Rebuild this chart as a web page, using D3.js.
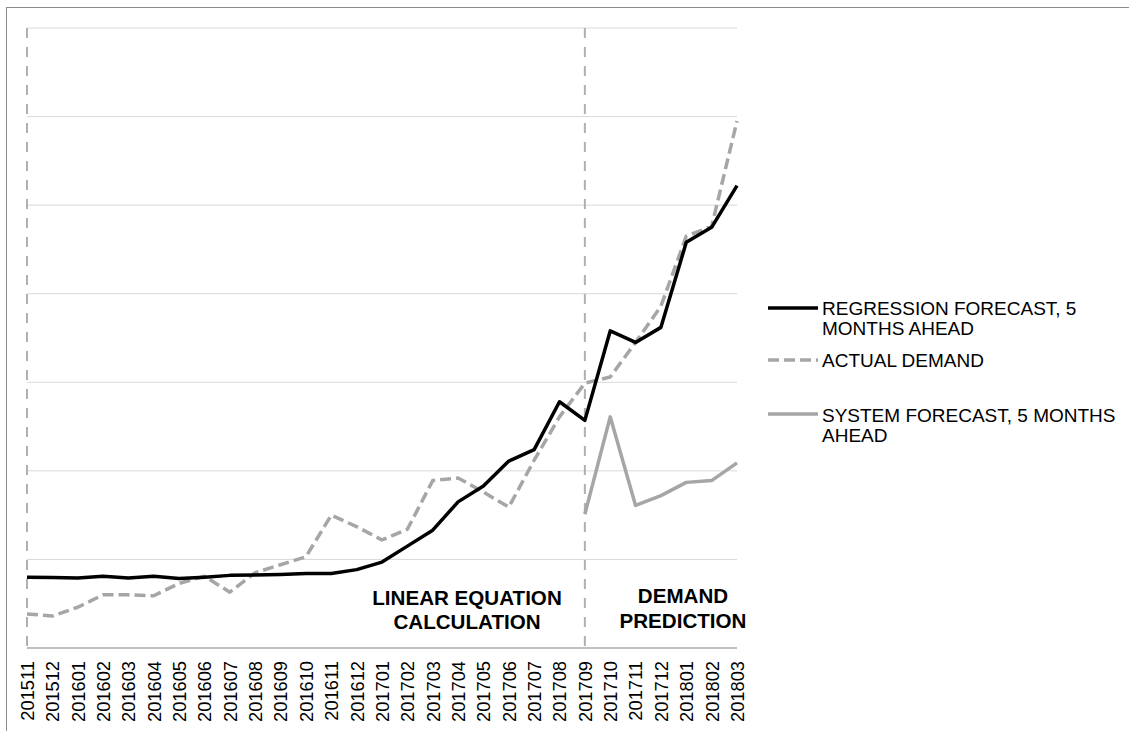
<!DOCTYPE html>
<html>
<head>
<meta charset="utf-8">
<script src="https://cdn.jsdelivr.net/npm/d3@7"></script>
<style>
  html, body { margin: 0; padding: 0; background: #fff; }
  svg { display: block; font-family: "Liberation Sans", Arial, sans-serif; }
</style>
</head>
<body>
<svg id="chart" width="1129" height="731"></svg>
<script>
const categories = ["201511","201512","201601","201602","201603","201604","201605","201606","201607","201608","201609","201610","201611","201612","201701","201702","201703","201704","201705","201706","201707","201708","201709","201710","201711","201712","201801","201802","201803"];

const regressionForecast = [8.0,7.95,7.9,8.1,7.9,8.1,7.85,8.0,8.2,8.25,8.3,8.4,8.4,8.85,9.7,11.5,13.3,16.5,18.3,21.1,22.4,27.8,25.7,35.8,34.5,36.2,45.8,47.5,52.2];

const actualDemand = [3.85,3.6,4.6,6.0,6.0,5.9,7.3,8.1,6.3,8.5,9.4,10.3,15.0,13.7,12.2,13.4,18.9,19.2,17.6,15.9,21.2,26.1,29.9,30.6,34.5,38.6,46.5,47.6,59.5];

const systemForecast = [null,null,null,null,null,null,null,null,null,null,null,null,null,null,null,null,null,null,null,null,null,null,15.1,26.1,16.1,17.2,18.7,18.9,20.9];

const yTicks = [10,20,30,40,50,60,70];
const dividerCategories = ["201511","201709"];

const seriesNames = ["REGRESSION FORECAST, 5 MONTHS AHEAD","ACTUAL DEMAND","SYSTEM FORECAST, 5 MONTHS AHEAD"];

const svg = d3.select("#chart");

// outer border
svg.append("rect").attr("x",6.5).attr("y",7.5).attr("width",1200).attr("height",800)
  .attr("fill","none").attr("stroke","#8c8c8c").attr("stroke-width",1);

const x = d3.scalePoint().domain(categories).range([27, 737]);
const y = d3.scaleLinear().domain([0,70]).range([648, 28]);

// gridlines
svg.append("g").selectAll("line").data(yTicks).join("line")
  .attr("x1",27).attr("x2",737)
  .attr("y1",d=>y(d)).attr("y2",d=>y(d))
  .attr("stroke","#d9d9d9").attr("stroke-width",1);

// x axis
const xAxis = svg.append("g").attr("transform",`translate(0,${y(0)})`)
  .call(d3.axisBottom(x).tickSize(0).tickSizeOuter(0));
xAxis.select(".domain").attr("stroke","#bfbfbf").attr("stroke-width",2.2)
  .attr("d", `M${x.range()[0]},0H${x.range()[1]}`);
xAxis.selectAll("text")
  .attr("transform","rotate(-90)")
  .attr("x",-13).attr("y",0).attr("dy","0.35em")
  .attr("text-anchor","end")
  .attr("font-size",18.3).attr("fill","#000")
  .attr("font-family","'Liberation Sans', Arial, sans-serif");

// vertical dashed dividers
svg.append("g").selectAll("line").data(dividerCategories).join("line")
  .attr("x1",d=>x(d)).attr("x2",d=>x(d))
  .attr("y1",y(70)).attr("y2",654)
  .attr("stroke","#b0b0b0").attr("stroke-width",2)
  .attr("stroke-dasharray","10,9");

const line = d3.line()
  .defined(d=>d.v!=null)
  .x(d=>x(d.c)).y(d=>y(d.v));

function pts(arr){ return categories.map((c,i)=>({c, v: arr[i]})); }

svg.append("path").datum(pts(systemForecast))
  .attr("d",line).attr("fill","none")
  .attr("stroke","#a6a6a6").attr("stroke-width",3.5).attr("stroke-linejoin","round");

svg.append("path").datum(pts(actualDemand))
  .attr("d",line).attr("fill","none")
  .attr("stroke","#a6a6a6").attr("stroke-width",3.5)
  .attr("stroke-dasharray","11,5").attr("stroke-linejoin","round");

svg.append("path").datum(pts(regressionForecast))
  .attr("d",line).attr("fill","none")
  .attr("stroke","#000").attr("stroke-width",3.5).attr("stroke-linejoin","round");

// annotations
const ann = svg.append("g").attr("font-weight","bold").attr("font-size",20.6)
  .attr("text-anchor","middle").attr("fill","#000");
ann.append("text").attr("x",467).attr("y",605).text("LINEAR EQUATION");
ann.append("text").attr("x",467).attr("y",629).text("CALCULATION");
ann.append("text").attr("x",683).attr("y",603).text("DEMAND");
ann.append("text").attr("x",683).attr("y",628).text("PREDICTION");

// legend
const legendItems = [
  {lines:["REGRESSION FORECAST, 5","MONTHS AHEAD"], ly:308, ty:315, color:"#000", dash:null},
  {lines:["ACTUAL DEMAND"], ly:360, ty:367, color:"#a6a6a6", dash:"11,5"},
  {lines:["SYSTEM FORECAST, 5 MONTHS","AHEAD"], ly:414, ty:422, color:"#a6a6a6", dash:null}
];
const lg = svg.append("g");
legendItems.forEach((it,i)=>{
  lg.append("line").attr("x1",768).attr("x2",818).attr("y1",it.ly).attr("y2",it.ly)
    .attr("stroke",it.color).attr("stroke-width",3.5)
    .attr("stroke-dasharray",it.dash);
  const t = lg.append("text").attr("x",822).attr("y",it.ty).attr("font-size",19).attr("fill","#000")
    .attr("data-series", seriesNames[i]);
  it.lines.forEach((s,j)=>{
    t.append("tspan").attr("x",822).attr("dy", j===0?0:20).text(s);
  });
});
</script>
</body>
</html>
